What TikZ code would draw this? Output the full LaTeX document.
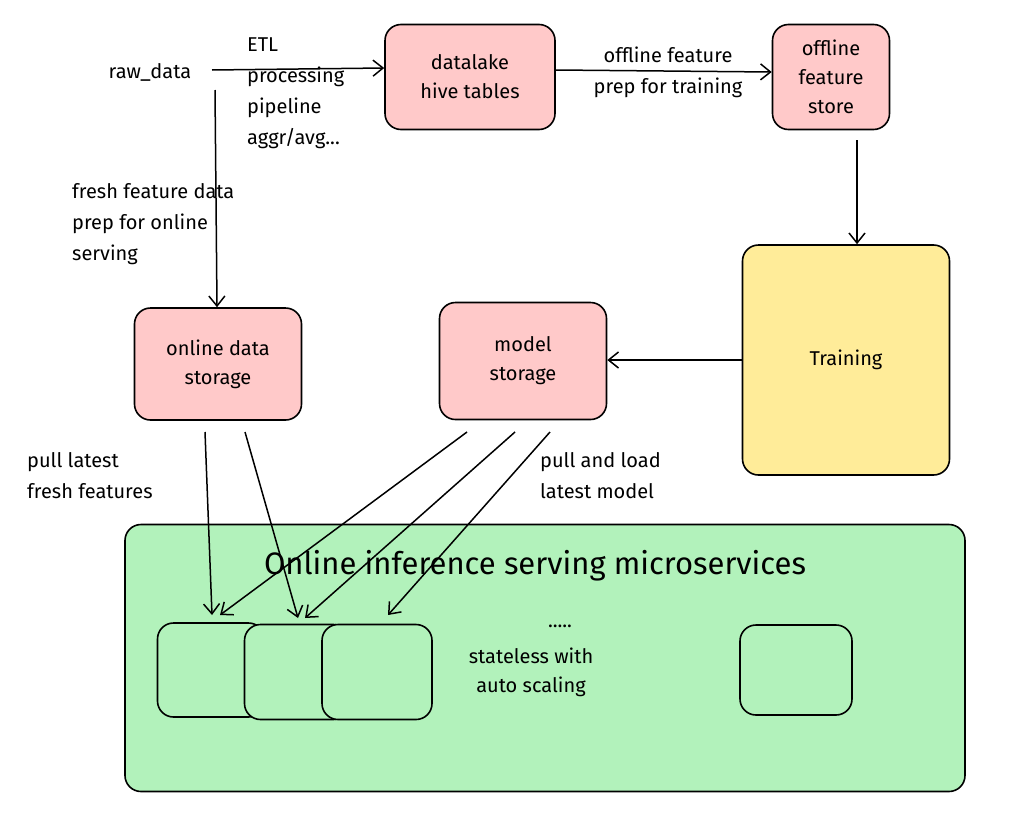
\documentclass[tikz,border=0pt]{standalone}
\usepackage{fontspec}
\setmainfont{Fira Sans}
\usetikzlibrary{arrows.meta}
\definecolor{pinkf}{HTML}{FFC9C9}
\definecolor{yelf}{HTML}{FFEC99}
\definecolor{grnf}{HTML}{B2F2BB}
\begin{document}
\begin{tikzpicture}[x=1pt,y=-1pt,
  box/.style={draw=black,line width=1.6pt,rounded corners=16pt,align=center,font=\fontsize{20}{29}\selectfont},
  lbl/.style={align=left,anchor=north west,font=\fontsize{20}{31}\selectfont,inner sep=0pt},
  arr/.style={line width=1.5pt,-{Straight Barb[length=10pt,width=16pt]}}]
\useasboundingbox (0,0) rectangle (1024,838);
\node[box,fill=pinkf,minimum width=170pt,minimum height=105pt] (dl) at (470,77) {datalake\\hive tables};
\node[box,fill=pinkf,minimum width=117pt,minimum height=105pt] (ofs) at (831,77) {offline\\feature\\store};
\node[box,fill=yelf,minimum width=207pt,minimum height=230pt] (tr) at (846,360) {Training};
\node[box,fill=pinkf,minimum width=167pt,minimum height=117pt] (ms) at (523,361) {model\\storage};
\node[box,fill=pinkf,minimum width=167pt,minimum height=112pt] (ods) at (218,364) {online data\\storage};
\node[box,fill=grnf,minimum width=840pt,minimum height=267pt] (big) at (545,658) {};
\node[font=\fontsize{31}{36}\selectfont] (title) at (535,566) {Online inference serving microservices};
\node[box,fill=grnf,minimum width=107pt,minimum height=94pt] (b1) at (211,670) {};
\node[box,fill=grnf,minimum width=105pt,minimum height=95pt] (b2) at (297,672) {};
\node[box,fill=grnf,minimum width=110pt,minimum height=95pt] (b3) at (377,672) {};
\node[box,fill=grnf,minimum width=112pt,minimum height=90pt] (b4) at (796,670) {};
\node[font=\fontsize{20}{24}\selectfont] (dots) at (560,626) {.....};
\node[align=center,font=\fontsize{20}{29}\selectfont] (sl) at (531,672) {stateless with\\auto scaling};
\node[font=\fontsize{20}{24}\selectfont] (raw) at (150,72) {raw\_data};
\coordinate (r1) at (212,70);
\coordinate (r2) at (215,90);
\draw[arr] (r1) -- (dl.west|-0,68);
\node[lbl] (etl) at (247,38) {ETL\\processing\\pipeline\\aggr/avg...};
\draw[arr] (dl.east|-0,70) -- (ofs.west|-0,72);
\node[align=center,font=\fontsize{20}{31}\selectfont] (ofl) at (668,72) {offline feature\\prep for training};
\draw[arr] (857,140) -- (tr.north-|857,0);
\draw[arr] (r2) -- (ods.north-|217,0);
\node[lbl] (ff) at (72,183) {fresh feature data\\prep for online\\serving};
\draw[arr] (tr.west|-0,360) -- (ms.east|-0,360);
\coordinate (o1) at (205,432); \coordinate (o2) at (245,432);
\coordinate (m1) at (467,432); \coordinate (m2) at (515,432); \coordinate (m3) at (550,432);
\coordinate (t1) at (212,615); \coordinate (t2) at (298,618); \coordinate (t3) at (220,615);
\coordinate (t4) at (305,618); \coordinate (t5) at (388,615);
\draw[arr] (o1) -- (t1);
\draw[arr] (o2) -- (t2);
\draw[arr] (m1) -- (t3);
\draw[arr] (m2) -- (t4);
\draw[arr] (m3) -- (t5);
\node[lbl] (pf) at (27,452) {pull latest\\fresh features};
\node[lbl] (pm) at (540,452) {pull and load\\latest model};
\end{tikzpicture}
\end{document}
